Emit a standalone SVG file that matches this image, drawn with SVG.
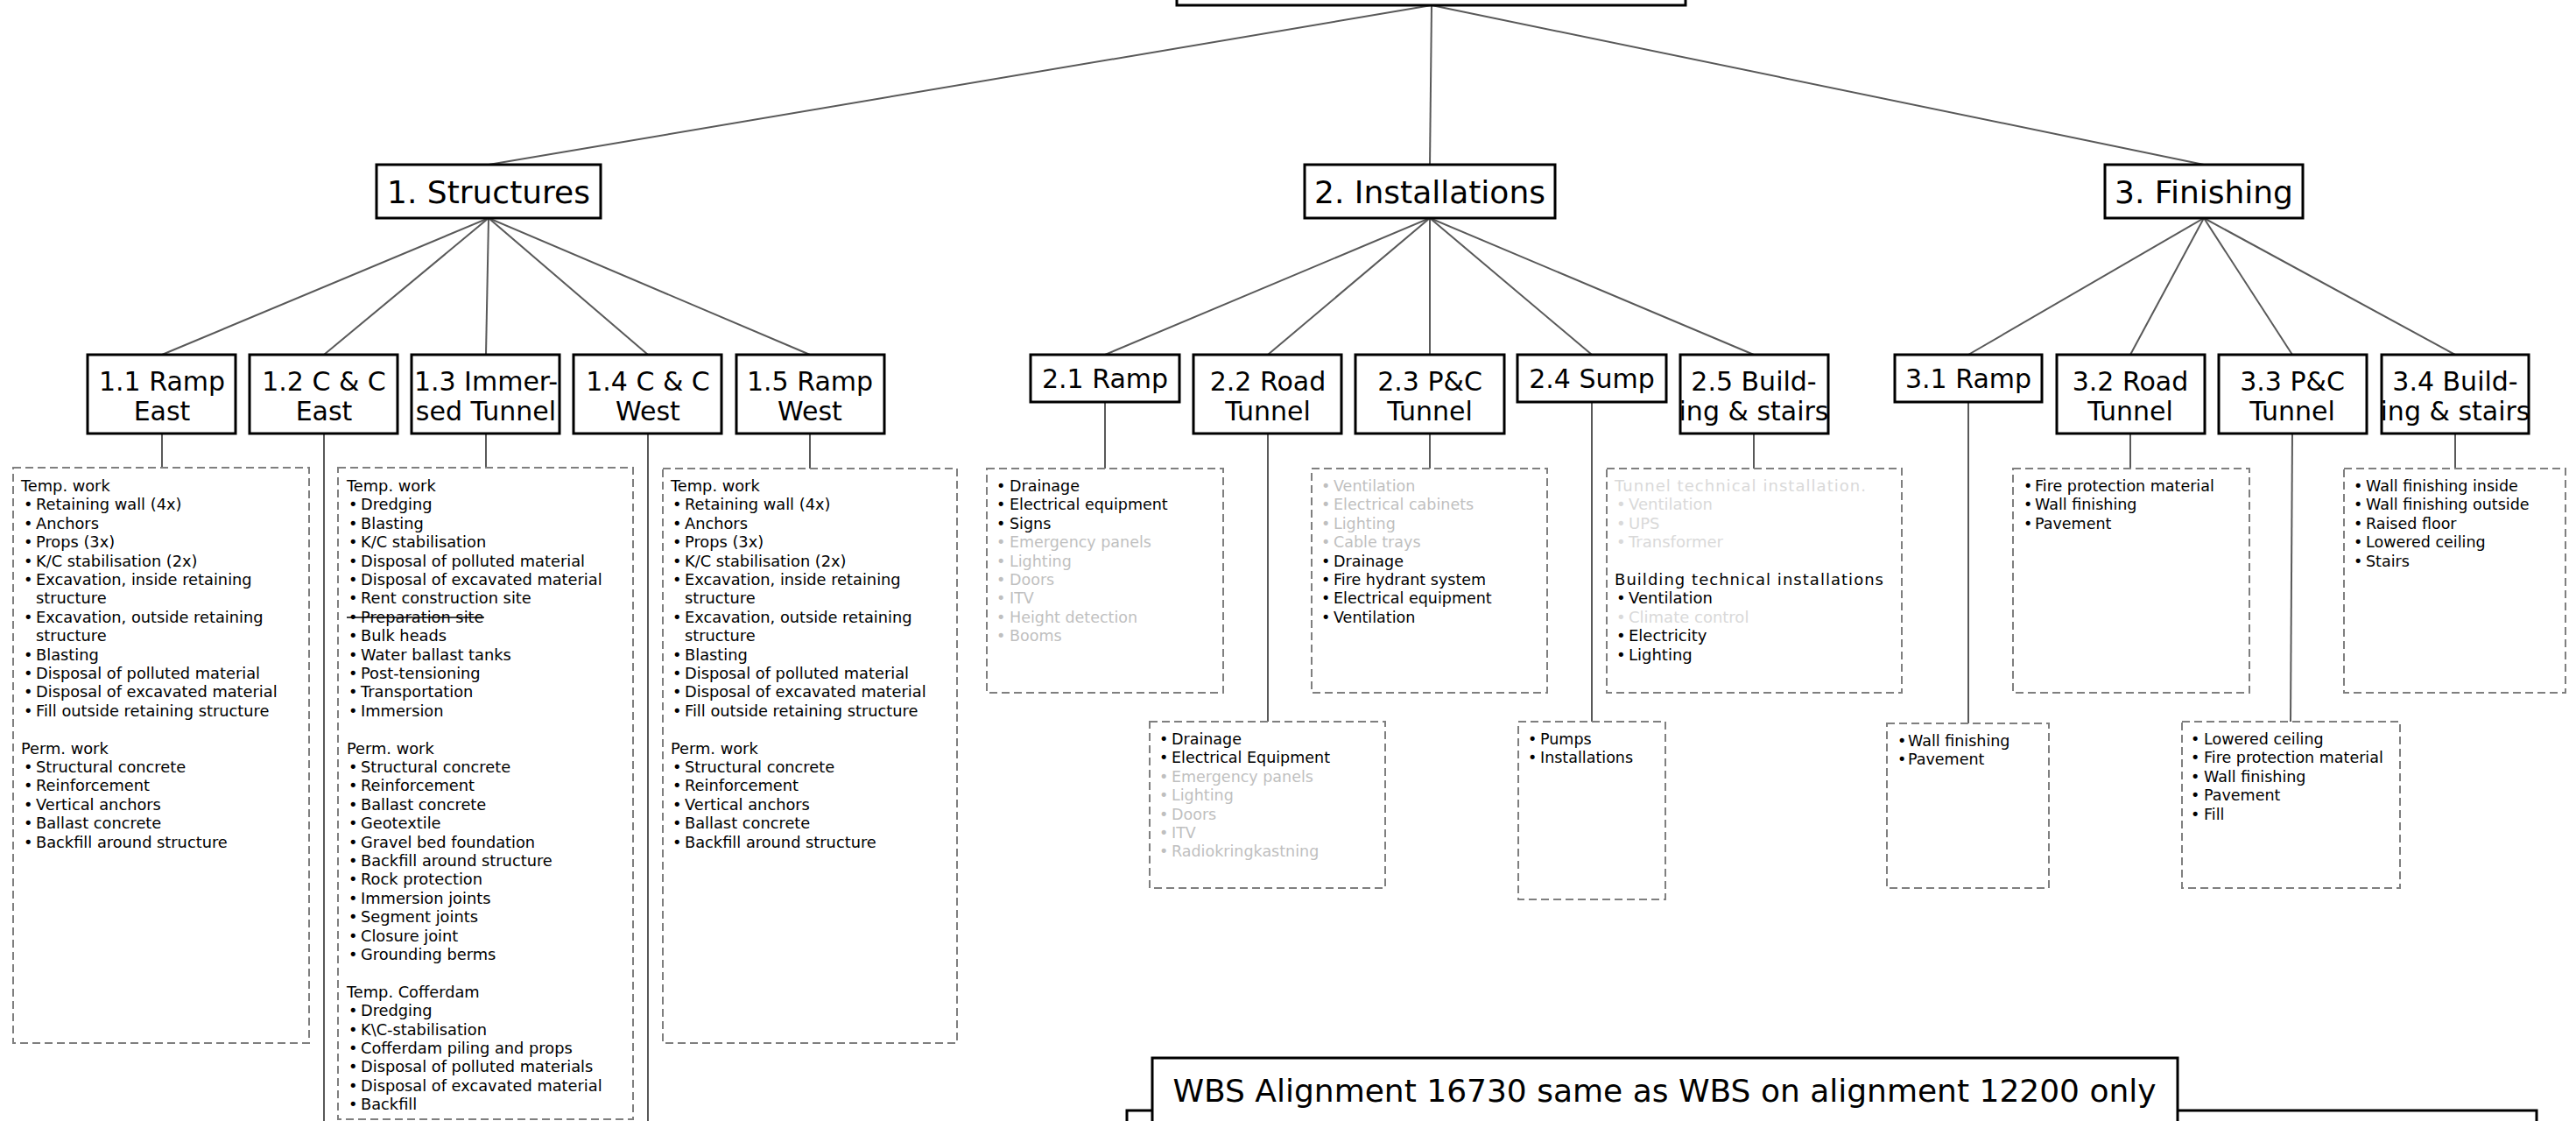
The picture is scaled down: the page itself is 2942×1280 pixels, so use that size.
<svg xmlns="http://www.w3.org/2000/svg" width="2942" height="1280" viewBox="0 0 2942 1280">
<style>
.box{fill:#fff;stroke:#000;stroke-width:3}
.dash{fill:none;stroke:#7f7f7f;stroke-width:2;stroke-dasharray:9 5}
.conn{fill:none;stroke:#595959;stroke-width:2}
text{font-family:"DejaVu Sans",sans-serif;fill:#000}
.t1{font-size:36px;text-anchor:middle}
.t2{font-size:30px;text-anchor:middle}
.tx{font-size:17.5px}
.tl{font-size:17.8px}
.tb{font-size:18px}
.g{fill:#bfbfbf}
.g2{fill:#d9d9d9}
</style>
<rect width="2942" height="1280" fill="#fff"/>
<g id="connectors">
<line class="conn" x1="1635" y1="6" x2="558" y2="188"/>
<line class="conn" x1="1635" y1="6" x2="1633" y2="188"/>
<line class="conn" x1="1635" y1="6" x2="2517" y2="188"/>
<line class="conn" x1="558" y1="249" x2="185" y2="405"/>
<line class="conn" x1="558" y1="249" x2="370" y2="405"/>
<line class="conn" x1="558" y1="249" x2="555" y2="405"/>
<line class="conn" x1="558" y1="249" x2="740" y2="405"/>
<line class="conn" x1="558" y1="249" x2="925" y2="405"/>
<line class="conn" x1="1633" y1="249" x2="1262" y2="405"/>
<line class="conn" x1="1633" y1="249" x2="1448" y2="405"/>
<line class="conn" x1="1633" y1="249" x2="1633" y2="405"/>
<line class="conn" x1="1633" y1="249" x2="1818" y2="405"/>
<line class="conn" x1="1633" y1="249" x2="2003" y2="405"/>
<line class="conn" x1="2517" y1="249" x2="2248" y2="405"/>
<line class="conn" x1="2517" y1="249" x2="2433" y2="405"/>
<line class="conn" x1="2517" y1="249" x2="2618" y2="405"/>
<line class="conn" x1="2517" y1="249" x2="2804" y2="405"/>
<line class="conn" x1="185" y1="495" x2="185" y2="534"/>
<line class="conn" x1="370" y1="495" x2="370" y2="1280"/>
<line class="conn" x1="555" y1="495" x2="555" y2="534"/>
<line class="conn" x1="740" y1="495" x2="740" y2="1280"/>
<line class="conn" x1="925" y1="495" x2="925" y2="535"/>
<line class="conn" x1="1262" y1="459" x2="1262" y2="535"/>
<line class="conn" x1="1448" y1="495" x2="1448" y2="824"/>
<line class="conn" x1="1633" y1="495" x2="1633" y2="535"/>
<line class="conn" x1="1818" y1="459" x2="1818" y2="824"/>
<line class="conn" x1="2003" y1="495" x2="2003" y2="535"/>
<line class="conn" x1="2248" y1="459" x2="2248" y2="826"/>
<line class="conn" x1="2433" y1="495" x2="2433" y2="535"/>
<line class="conn" x1="2618" y1="495" x2="2616" y2="824"/>
<line class="conn" x1="2804" y1="495" x2="2804" y2="535"/>
</g>
<g id="root"><rect class="box" x="1344" y="-60" width="581" height="66"/></g>
<g id="n1"><rect class="box" x="430" y="188" width="256" height="61"/><text class="t1" x="558" y="232">1. Structures</text></g>
<g id="n2"><rect class="box" x="1490" y="188" width="286" height="61"/><text class="t1" x="1633" y="232">2. Installations</text></g>
<g id="n3"><rect class="box" x="2404" y="188" width="226" height="61"/><text class="t1" x="2517" y="232">3. Finishing</text></g>

<g id="n1_1"><rect class="box" x="100" y="405" width="169" height="90"/><text class="t2" x="185" y="446">1.1 Ramp</text><text class="t2" x="185" y="480">East</text></g>
<g id="n1_2"><rect class="box" x="285" y="405" width="169" height="90"/><text class="t2" x="370" y="446">1.2 C &amp; C</text><text class="t2" x="370" y="480">East</text></g>
<g id="n1_3"><rect class="box" x="470" y="405" width="169" height="90"/><text class="t2" x="555" y="446">1.3 Immer-</text><text class="t2" x="555" y="480">sed Tunnel</text></g>
<g id="n1_4"><rect class="box" x="655" y="405" width="169" height="90"/><text class="t2" x="740" y="446">1.4 C &amp; C</text><text class="t2" x="740" y="480">West</text></g>
<g id="n1_5"><rect class="box" x="841" y="405" width="169" height="90"/><text class="t2" x="925" y="446">1.5 Ramp</text><text class="t2" x="925" y="480">West</text></g>

<g id="n2_1"><rect class="box" x="1177" y="405" width="170" height="54"/><text class="t2" x="1262" y="443">2.1 Ramp</text></g>
<g id="n2_2"><rect class="box" x="1363" y="405" width="169" height="90"/><text class="t2" x="1448" y="446">2.2 Road</text><text class="t2" x="1448" y="480">Tunnel</text></g>
<g id="n2_3"><rect class="box" x="1548" y="405" width="170" height="90"/><text class="t2" x="1633" y="446">2.3 P&amp;C</text><text class="t2" x="1633" y="480">Tunnel</text></g>
<g id="n2_4"><rect class="box" x="1733" y="405" width="170" height="54"/><text class="t2" x="1818" y="443">2.4 Sump</text></g>
<g id="n2_5"><rect class="box" x="1919" y="405" width="169" height="90"/><text class="t2" x="2003" y="446">2.5 Build-</text><text class="t2" x="2003" y="480">ing &amp; stairs</text></g>

<g id="n3_1"><rect class="box" x="2164" y="405" width="168" height="54"/><text class="t2" x="2248" y="443">3.1 Ramp</text></g>
<g id="n3_2"><rect class="box" x="2349" y="405" width="169" height="90"/><text class="t2" x="2433" y="446">3.2 Road</text><text class="t2" x="2433" y="480">Tunnel</text></g>
<g id="n3_3"><rect class="box" x="2534" y="405" width="169" height="90"/><text class="t2" x="2618" y="446">3.3 P&amp;C</text><text class="t2" x="2618" y="480">Tunnel</text></g>
<g id="n3_4"><rect class="box" x="2720" y="405" width="168" height="90"/><text class="t2" x="2804" y="446">3.4 Build-</text><text class="t2" x="2804" y="480">ing &amp; stairs</text></g>

<g id="d1_1"><rect class="dash" x="15" y="534" width="338" height="657"/>
<text class="tl" x="24" y="561">Temp. work</text>
<text class="tl" y="582.4"><tspan x="27">•</tspan><tspan x="41">Retaining wall (4x)</tspan></text>
<text class="tl" y="603.8"><tspan x="27">•</tspan><tspan x="41">Anchors</tspan></text>
<text class="tl" y="625.2"><tspan x="27">•</tspan><tspan x="41">Props (3x)</tspan></text>
<text class="tl" y="646.6"><tspan x="27">•</tspan><tspan x="41">K/C stabilisation (2x)</tspan></text>
<text class="tl" y="668"><tspan x="27">•</tspan><tspan x="41">Excavation, inside retaining</tspan></text>
<text class="tl" x="41" y="689.4">structure</text>
<text class="tl" y="710.8"><tspan x="27">•</tspan><tspan x="41">Excavation, outside retaining</tspan></text>
<text class="tl" x="41" y="732.2">structure</text>
<text class="tl" y="753.6"><tspan x="27">•</tspan><tspan x="41">Blasting</tspan></text>
<text class="tl" y="775"><tspan x="27">•</tspan><tspan x="41">Disposal of polluted material</tspan></text>
<text class="tl" y="796.4"><tspan x="27">•</tspan><tspan x="41">Disposal of excavated material</tspan></text>
<text class="tl" y="817.8"><tspan x="27">•</tspan><tspan x="41">Fill outside retaining structure</tspan></text>
<text class="tl" x="24" y="860.6">Perm. work</text>
<text class="tl" y="882"><tspan x="27">•</tspan><tspan x="41">Structural concrete</tspan></text>
<text class="tl" y="903.4"><tspan x="27">•</tspan><tspan x="41">Reinforcement</tspan></text>
<text class="tl" y="924.8"><tspan x="27">•</tspan><tspan x="41">Vertical anchors</tspan></text>
<text class="tl" y="946.2"><tspan x="27">•</tspan><tspan x="41">Ballast concrete</tspan></text>
<text class="tl" y="967.6"><tspan x="27">•</tspan><tspan x="41">Backfill around structure</tspan></text>
</g>

<g id="d1_3"><rect class="dash" x="386" y="534" width="337" height="744"/>
<text class="tl" x="396" y="561">Temp. work</text>
<text class="tl" y="582.4"><tspan x="398">•</tspan><tspan x="412">Dredging</tspan></text>
<text class="tl" y="603.8"><tspan x="398">•</tspan><tspan x="412">Blasting</tspan></text>
<text class="tl" y="625.2"><tspan x="398">•</tspan><tspan x="412">K/C stabilisation</tspan></text>
<text class="tl" y="646.6"><tspan x="398">•</tspan><tspan x="412">Disposal of polluted material</tspan></text>
<text class="tl" y="668"><tspan x="398">•</tspan><tspan x="412">Disposal of excavated material</tspan></text>
<text class="tl" y="689.4"><tspan x="398">•</tspan><tspan x="412">Rent construction site</tspan></text>
<text class="tl" y="710.8"><tspan x="398">•</tspan><tspan x="412">Preparation site</tspan></text>
<line x1="396" y1="705" x2="553" y2="705" stroke="#000" stroke-width="1.5"/>
<text class="tl" y="732.2"><tspan x="398">•</tspan><tspan x="412">Bulk heads</tspan></text>
<text class="tl" y="753.6"><tspan x="398">•</tspan><tspan x="412">Water ballast tanks</tspan></text>
<text class="tl" y="775"><tspan x="398">•</tspan><tspan x="412">Post-tensioning</tspan></text>
<text class="tl" y="796.4"><tspan x="398">•</tspan><tspan x="412">Transportation</tspan></text>
<text class="tl" y="817.8"><tspan x="398">•</tspan><tspan x="412">Immersion</tspan></text>
<text class="tl" x="396" y="860.6">Perm. work</text>
<text class="tl" y="882"><tspan x="398">•</tspan><tspan x="412">Structural concrete</tspan></text>
<text class="tl" y="903.4"><tspan x="398">•</tspan><tspan x="412">Reinforcement</tspan></text>
<text class="tl" y="924.8"><tspan x="398">•</tspan><tspan x="412">Ballast concrete</tspan></text>
<text class="tl" y="946.2"><tspan x="398">•</tspan><tspan x="412">Geotextile</tspan></text>
<text class="tl" y="967.6"><tspan x="398">•</tspan><tspan x="412">Gravel bed foundation</tspan></text>
<text class="tl" y="989"><tspan x="398">•</tspan><tspan x="412">Backfill around structure</tspan></text>
<text class="tl" y="1010.4"><tspan x="398">•</tspan><tspan x="412">Rock protection</tspan></text>
<text class="tl" y="1031.8"><tspan x="398">•</tspan><tspan x="412">Immersion joints</tspan></text>
<text class="tl" y="1053.2"><tspan x="398">•</tspan><tspan x="412">Segment joints</tspan></text>
<text class="tl" y="1074.6"><tspan x="398">•</tspan><tspan x="412">Closure joint</tspan></text>
<text class="tl" y="1096"><tspan x="398">•</tspan><tspan x="412">Grounding berms</tspan></text>
<text class="tl" x="396" y="1138.8">Temp. Cofferdam</text>
<text class="tl" y="1160.2"><tspan x="398">•</tspan><tspan x="412">Dredging</tspan></text>
<text class="tl" y="1181.6"><tspan x="398">•</tspan><tspan x="412">K\C-stabilisation</tspan></text>
<text class="tl" y="1203"><tspan x="398">•</tspan><tspan x="412">Cofferdam piling and props</tspan></text>
<text class="tl" y="1224.4"><tspan x="398">•</tspan><tspan x="412">Disposal of polluted materials</tspan></text>
<text class="tl" y="1245.8"><tspan x="398">•</tspan><tspan x="412">Disposal of excavated material</tspan></text>
<text class="tl" y="1267.2"><tspan x="398">•</tspan><tspan x="412">Backfill</tspan></text>
</g>

<g id="d1_5"><rect class="dash" x="757" y="535" width="336" height="656"/>
<text class="tl" x="766" y="561">Temp. work</text>
<text class="tl" y="582.4"><tspan x="768">•</tspan><tspan x="782">Retaining wall (4x)</tspan></text>
<text class="tl" y="603.8"><tspan x="768">•</tspan><tspan x="782">Anchors</tspan></text>
<text class="tl" y="625.2"><tspan x="768">•</tspan><tspan x="782">Props (3x)</tspan></text>
<text class="tl" y="646.6"><tspan x="768">•</tspan><tspan x="782">K/C stabilisation (2x)</tspan></text>
<text class="tl" y="668"><tspan x="768">•</tspan><tspan x="782">Excavation, inside retaining</tspan></text>
<text class="tl" x="782" y="689.4">structure</text>
<text class="tl" y="710.8"><tspan x="768">•</tspan><tspan x="782">Excavation, outside retaining</tspan></text>
<text class="tl" x="782" y="732.2">structure</text>
<text class="tl" y="753.6"><tspan x="768">•</tspan><tspan x="782">Blasting</tspan></text>
<text class="tl" y="775"><tspan x="768">•</tspan><tspan x="782">Disposal of polluted material</tspan></text>
<text class="tl" y="796.4"><tspan x="768">•</tspan><tspan x="782">Disposal of excavated material</tspan></text>
<text class="tl" y="817.8"><tspan x="768">•</tspan><tspan x="782">Fill outside retaining structure</tspan></text>
<text class="tl" x="766" y="860.6">Perm. work</text>
<text class="tl" y="882"><tspan x="768">•</tspan><tspan x="782">Structural concrete</tspan></text>
<text class="tl" y="903.4"><tspan x="768">•</tspan><tspan x="782">Reinforcement</tspan></text>
<text class="tl" y="924.8"><tspan x="768">•</tspan><tspan x="782">Vertical anchors</tspan></text>
<text class="tl" y="946.2"><tspan x="768">•</tspan><tspan x="782">Ballast concrete</tspan></text>
<text class="tl" y="967.6"><tspan x="768">•</tspan><tspan x="782">Backfill around structure</tspan></text>
</g>

<g id="d2_1"><rect class="dash" x="1127" y="535" width="270" height="256"/>
<text class="tx" y="561"><tspan x="1138">•</tspan><tspan x="1153">Drainage</tspan></text>
<text class="tx" y="582.4"><tspan x="1138">•</tspan><tspan x="1153">Electrical equipment</tspan></text>
<text class="tx" y="603.8"><tspan x="1138">•</tspan><tspan x="1153">Signs</tspan></text>
<text class="tx g" y="625.2"><tspan x="1138">•</tspan><tspan x="1153">Emergency panels</tspan></text>
<text class="tx g" y="646.6"><tspan x="1138">•</tspan><tspan x="1153">Lighting</tspan></text>
<text class="tx g" y="668"><tspan x="1138">•</tspan><tspan x="1153">Doors</tspan></text>
<text class="tx g" y="689.4"><tspan x="1138">•</tspan><tspan x="1153">ITV</tspan></text>
<text class="tx g" y="710.8"><tspan x="1138">•</tspan><tspan x="1153">Height detection</tspan></text>
<text class="tx g" y="732.2"><tspan x="1138">•</tspan><tspan x="1153">Booms</tspan></text>
</g>

<g id="d2_2"><rect class="dash" x="1313" y="824" width="269" height="190"/>
<text class="tx" y="850"><tspan x="1324">•</tspan><tspan x="1338">Drainage</tspan></text>
<text class="tx" y="871.4"><tspan x="1324">•</tspan><tspan x="1338">Electrical Equipment</tspan></text>
<text class="tx g" y="892.8"><tspan x="1324">•</tspan><tspan x="1338">Emergency panels</tspan></text>
<text class="tx g" y="914.2"><tspan x="1324">•</tspan><tspan x="1338">Lighting</tspan></text>
<text class="tx g" y="935.6"><tspan x="1324">•</tspan><tspan x="1338">Doors</tspan></text>
<text class="tx g" y="957"><tspan x="1324">•</tspan><tspan x="1338">ITV</tspan></text>
<text class="tx g" y="978.4"><tspan x="1324">•</tspan><tspan x="1338">Radiokringkastning</tspan></text>
</g>

<g id="d2_3"><rect class="dash" x="1498" y="535" width="269" height="256"/>
<text class="tx g" y="561"><tspan x="1509">•</tspan><tspan x="1523">Ventilation</tspan></text>
<text class="tx g" y="582.4"><tspan x="1509">•</tspan><tspan x="1523">Electrical cabinets</tspan></text>
<text class="tx g" y="603.8"><tspan x="1509">•</tspan><tspan x="1523">Lighting</tspan></text>
<text class="tx g" y="625.2"><tspan x="1509">•</tspan><tspan x="1523">Cable trays</tspan></text>
<text class="tx" y="646.6"><tspan x="1509">•</tspan><tspan x="1523">Drainage</tspan></text>
<text class="tx" y="668"><tspan x="1509">•</tspan><tspan x="1523">Fire hydrant system</tspan></text>
<text class="tx" y="689.4"><tspan x="1509">•</tspan><tspan x="1523">Electrical equipment</tspan></text>
<text class="tx" y="710.8"><tspan x="1509">•</tspan><tspan x="1523">Ventilation</tspan></text>
</g>

<g id="d2_4"><rect class="dash" x="1734" y="824" width="168" height="203"/>
<text class="tx" y="850"><tspan x="1745">•</tspan><tspan x="1759">Pumps</tspan></text>
<text class="tx" y="871.4"><tspan x="1745">•</tspan><tspan x="1759">Installations</tspan></text>
</g>

<g id="d2_5"><rect class="dash" x="1835" y="535" width="337" height="256"/>
<text class="tb g2" x="1844" y="561" textLength="287" lengthAdjust="spacing">Tunnel technical installation.</text>
<text class="tb g2" y="582.4"><tspan x="1846">•</tspan><tspan x="1860">Ventilation</tspan></text>
<text class="tb g2" y="603.8"><tspan x="1846">•</tspan><tspan x="1860">UPS</tspan></text>
<text class="tb g2" y="625.2"><tspan x="1846">•</tspan><tspan x="1860">Transformer</tspan></text>
<text class="tb" x="1844" y="668" textLength="307" lengthAdjust="spacing">Building technical installations</text>
<text class="tb" y="689.4"><tspan x="1846">•</tspan><tspan x="1860">Ventilation</tspan></text>
<text class="tb g2" y="710.8"><tspan x="1846">•</tspan><tspan x="1860">Climate control</tspan></text>
<text class="tb" y="732.2"><tspan x="1846">•</tspan><tspan x="1860">Electricity</tspan></text>
<text class="tb" y="753.6"><tspan x="1846">•</tspan><tspan x="1860">Lighting</tspan></text>
</g>

<g id="d3_1"><rect class="dash" x="2155" y="826" width="185" height="188"/>
<text class="tx" y="852"><tspan x="2167">•</tspan><tspan x="2179">Wall finishing</tspan></text>
<text class="tx" y="873.4"><tspan x="2167">•</tspan><tspan x="2179">Pavement</tspan></text>
</g>

<g id="d3_2"><rect class="dash" x="2299" y="535" width="270" height="256"/>
<text class="tx" y="561"><tspan x="2311">•</tspan><tspan x="2324">Fire protection material</tspan></text>
<text class="tx" y="582.4"><tspan x="2311">•</tspan><tspan x="2324">Wall finishing</tspan></text>
<text class="tx" y="603.8"><tspan x="2311">•</tspan><tspan x="2324">Pavement</tspan></text>
</g>

<g id="d3_3"><rect class="dash" x="2492" y="824" width="249" height="190"/>
<text class="tx" y="850"><tspan x="2502">•</tspan><tspan x="2517">Lowered ceiling</tspan></text>
<text class="tx" y="871.4"><tspan x="2502">•</tspan><tspan x="2517">Fire protection material</tspan></text>
<text class="tx" y="892.8"><tspan x="2502">•</tspan><tspan x="2517">Wall finishing</tspan></text>
<text class="tx" y="914.2"><tspan x="2502">•</tspan><tspan x="2517">Pavement</tspan></text>
<text class="tx" y="935.6"><tspan x="2502">•</tspan><tspan x="2517">Fill</tspan></text>
</g>

<g id="d3_4"><rect class="dash" x="2677" y="535" width="253" height="256"/>
<text class="tx" y="561"><tspan x="2688">•</tspan><tspan x="2702">Wall finishing inside</tspan></text>
<text class="tx" y="582.4"><tspan x="2688">•</tspan><tspan x="2702">Wall finishing outside</tspan></text>
<text class="tx" y="603.8"><tspan x="2688">•</tspan><tspan x="2702">Raised floor</tspan></text>
<text class="tx" y="625.2"><tspan x="2688">•</tspan><tspan x="2702">Lowered ceiling</tspan></text>
<text class="tx" y="646.6"><tspan x="2688">•</tspan><tspan x="2702">Stairs</tspan></text>
</g>

<g id="back_box"><rect class="box" x="1287" y="1268" width="1610" height="60"/></g>
<g id="note"><rect class="box" x="1316" y="1208" width="1171" height="120"/><text class="t1" x="1901" y="1258">WBS Alignment 16730 same as WBS on alignment 12200 only</text></g>
</svg>
